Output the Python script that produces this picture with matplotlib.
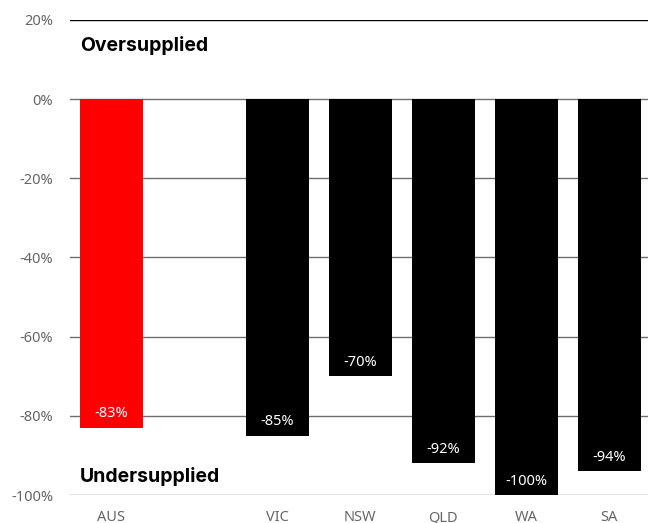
import numpy as np
from matplotlib import pyplot as plt

regions = ['AUS', '', 'VIC', 'NSW', 'QLD', 'WA', 'SA']
values = [-83, None, -85, -70, -92, -100, -94]
colours = ['#ff0000', None, '#000000', '#000000', '#000000', '#000000', '#000000']
yticks = [20, 0, -20, -40, -60, -80, -100]

plt.rcParams['font.family'] = ['Noto Sans', 'DejaVu Sans']

fig = plt.figure(figsize=(6.48, 5.23), dpi=100)
ax = fig.add_axes([0.108, 0.0535, 0.892, 0.9083])

x = np.arange(len(regions))
for i, v in enumerate(values):
    if v is None:
        continue
    ax.bar(x[i], v, width=0.76, color=colours[i], zorder=3)
    ax.annotate(f'{v}%', (x[i], v), xytext=(0, 10), textcoords='offset points',
                ha='center', va='center', color='white', fontsize=10.5, zorder=4)

ax.set_ylim(-100, 20)
ax.set_xlim(-0.5, 6.47)
ax.set_yticks(yticks)
ax.set_yticklabels([f'{t}%' for t in yticks])
for t in yticks:
    ax.axhline(t, color='#000000' if t == 20 else '#6e6e6e', lw=1.0, zorder=1)

ax.set_xticks(x)
ax.set_xticklabels(regions)
ax.tick_params(axis='both', length=0, colors='#666666', labelsize=10.5)
ax.tick_params(axis='y', pad=12)
ax.tick_params(axis='x', pad=11)
for s in ax.spines.values():
    s.set_visible(False)

ax.text(-0.38, 13.5, 'Oversupplied', fontsize=14, fontweight='bold',
        family=['Inter', 'DejaVu Sans'], va='center', ha='left')
ax.text(-0.38, -95.3, 'Undersupplied', fontsize=14, fontweight='bold',
        family=['Inter', 'DejaVu Sans'], va='center', ha='left')

plt.savefig('out.png', dpi=100)
